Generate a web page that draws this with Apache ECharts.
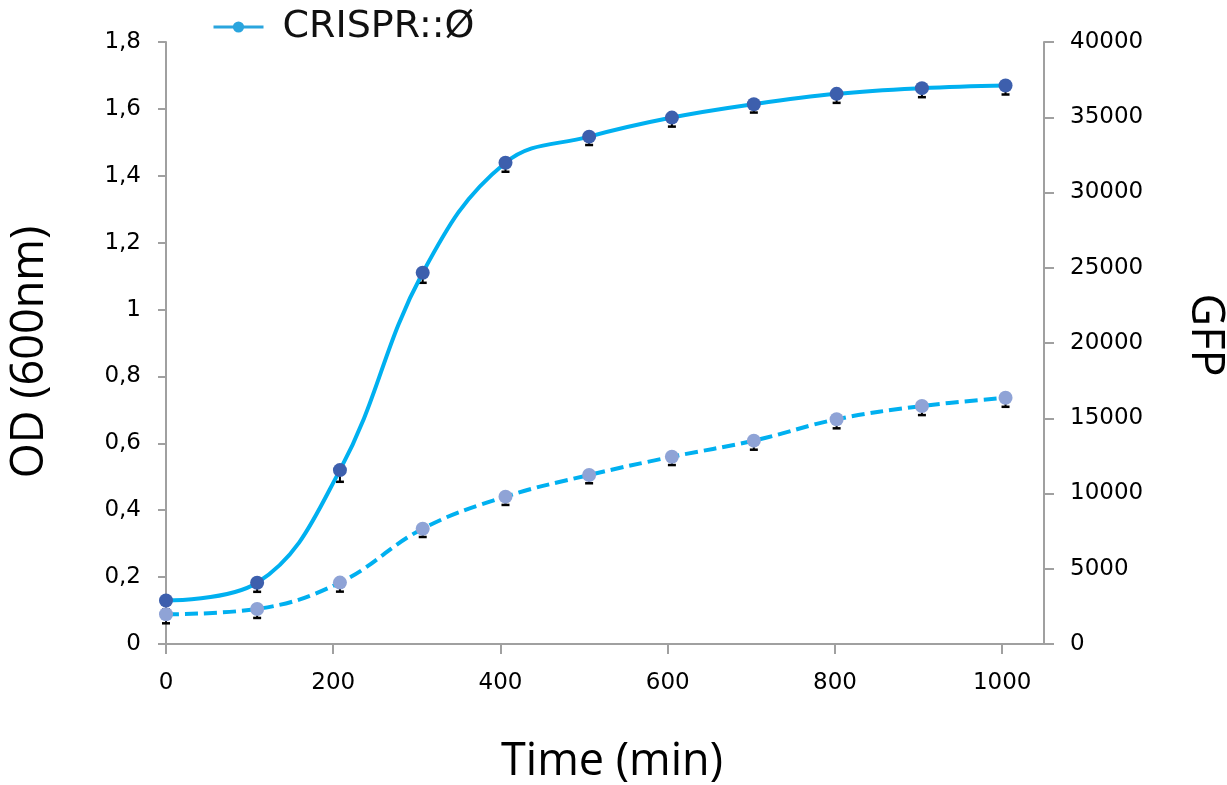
<!DOCTYPE html>
<html>
<head>
<meta charset="utf-8">
<script src="https://cdn.jsdelivr.net/npm/echarts@6/dist/echarts.min.js"></script>
<style>
html,body{margin:0;padding:0;background:#fff;}
#chart{width:1227px;height:785px;}
</style>
</head>
<body>
<div id="chart"></div>
<script>
// Time points (min)
const timeMin = [0, 109, 208, 307, 406, 506, 605, 703, 802, 904, 1004];
// OD (600nm) — solid line, left axis
const odValues = [0.130, 0.183, 0.520, 1.110, 1.439, 1.517, 1.574, 1.614, 1.645, 1.662, 1.670];
const odErrMinus = [0.027, 0.027, 0.035, 0.030, 0.027, 0.025, 0.027, 0.025, 0.027, 0.027, 0.027];
// GFP — dashed line, right axis
const gfpValues = [1975, 2330, 4080, 7660, 9790, 11230, 12440, 13510, 14930, 15810, 16360];
const gfpErrMinus = [600, 600, 600, 550, 550, 550, 550, 600, 600, 600, 600];
// Axis ticks
const odTicks = { min: 0, max: 1.8, interval: 0.2 };
const gfpTicks = { min: 0, max: 40000, interval: 5000 };
const timeTicks = { min: 0, max: 1050, interval: 200 };
const legendName = 'CRISPR::Ø';

const lineColor = '#00b0f0';
const axisGray = '#a0a0a0';
const labelFont = 'DejaVu Sans';
const titleFont = 'Open Sans';

function pairs(xs, ys) { return xs.map((x, i) => [x, ys[i]]); }
function errData(xs, ys, es) { return xs.map((x, i) => [x, ys[i], ys[i] - es[i]]); }

function errRender(params, api) {
  const x = api.value(0), y = api.value(1), lo = api.value(2);
  const p1 = api.coord([x, y]);
  const p2 = api.coord([x, lo]);
  const cap = 4;
  return {
    type: 'group',
    children: [
      { type: 'line', shape: { x1: p1[0], y1: p1[1], x2: p2[0], y2: p2[1] }, style: { stroke: '#000', lineWidth: 2 } },
      { type: 'line', shape: { x1: p2[0] - cap, y1: p2[1], x2: p2[0] + cap, y2: p2[1] }, style: { stroke: '#000', lineWidth: 2.5 } }
    ]
  };
}

const chart = echarts.init(document.getElementById('chart'));
chart.setOption({
  animation: false,
  backgroundColor: '#fff',
  grid: { left: 166, right: 183, top: 42, bottom: 141, containLabel: false, outerBoundsMode: 'none' },
  legend: {
    show: true,
    left: 212,
    top: 8,
    padding: 0,
    itemWidth: 50,
    itemHeight: 14,
    itemGap: 20,
    data: [{ name: legendName, itemStyle: { color: '#2aa5de' }, lineStyle: { color: '#2aa5de', width: 3 } }],
    textStyle: { fontFamily: labelFont, fontSize: 38, color: '#111', padding: [0, 0, 0, 14] }
  },
  xAxis: {
    type: 'value',
    min: timeTicks.min, max: timeTicks.max, interval: timeTicks.interval,
    name: 'Time (min)',
    nameLocation: 'middle',
    nameGap: 96,
    nameTextStyle: { fontFamily: titleFont, fontSize: 45, color: '#000', padding: [0, 0, 0, 14] },
    axisLine: { show: true, lineStyle: { color: axisGray, width: 2 } },
    axisTick: { show: true, inside: false, length: 10, lineStyle: { color: axisGray, width: 2 } },
    axisLabel: { showMaxLabel: false, margin: 28, fontFamily: labelFont, fontSize: 23, color: '#000', formatter: v => String(Math.round(v)) },
    splitLine: { show: false }
  },
  yAxis: [
    {
      type: 'value', position: 'left',
      min: odTicks.min, max: odTicks.max, interval: odTicks.interval,
      name: 'OD (600nm)',
      nameLocation: 'middle',
      nameGap: 113,
      nameRotate: 90,
      nameTextStyle: { fontFamily: titleFont, fontSize: 45, color: '#000', padding: [0, 18, 0, 0] },
      axisLine: { show: true, lineStyle: { color: axisGray, width: 2 } },
      axisTick: { show: true, inside: false, length: 8, lineStyle: { color: axisGray, width: 2 } },
      axisLabel: {
        margin: 25, fontFamily: labelFont, fontSize: 23, color: '#000',
        formatter: v => String(+v.toFixed(1)).replace('.', ',')
      },
      splitLine: { show: false }
    },
    {
      type: 'value', position: 'right',
      min: gfpTicks.min, max: gfpTicks.max, interval: gfpTicks.interval,
      name: 'GFP',
      nameLocation: 'middle',
      nameGap: 138,
      nameRotate: -90,
      nameTextStyle: { fontFamily: titleFont, fontSize: 45, color: '#000', padding: [0, 16, 0, 0] },
      axisLine: { show: true, lineStyle: { color: axisGray, width: 2 } },
      axisTick: { show: true, inside: false, length: 10, lineStyle: { color: axisGray, width: 2 } },
      axisLabel: { margin: 26, fontFamily: labelFont, fontSize: 23, color: '#000', formatter: v => String(Math.round(v)) },
      splitLine: { show: false }
    }
  ],
  series: [
    {
      name: 'odErr', type: 'custom', yAxisIndex: 0, z: 1,
      renderItem: errRender, data: errData(timeMin, odValues, odErrMinus),
      encode: { x: 0, y: [1, 2] }, silent: true
    },
    {
      name: 'gfpErr', type: 'custom', yAxisIndex: 1, z: 1,
      renderItem: errRender, data: errData(timeMin, gfpValues, gfpErrMinus),
      encode: { x: 0, y: [1, 2] }, silent: true
    },
    {
      name: legendName, type: 'line', yAxisIndex: 0, z: 3,
      data: pairs(timeMin, odValues),
      smooth: 0.4,
      symbol: 'circle', symbolSize: 14, showSymbol: true,
      lineStyle: { color: lineColor, width: 4 },
      itemStyle: { color: '#3d5fad' }
    },
    {
      name: 'GFP', type: 'line', yAxisIndex: 1, z: 3,
      data: pairs(timeMin, gfpValues),
      smooth: 0.4,
      symbol: 'circle', symbolSize: 14, showSymbol: true,
      lineStyle: { color: lineColor, width: 4, type: [13, 6] },
      itemStyle: { color: '#8fa3d6' }
    }
  ]
});
</script>
</body>
</html>
